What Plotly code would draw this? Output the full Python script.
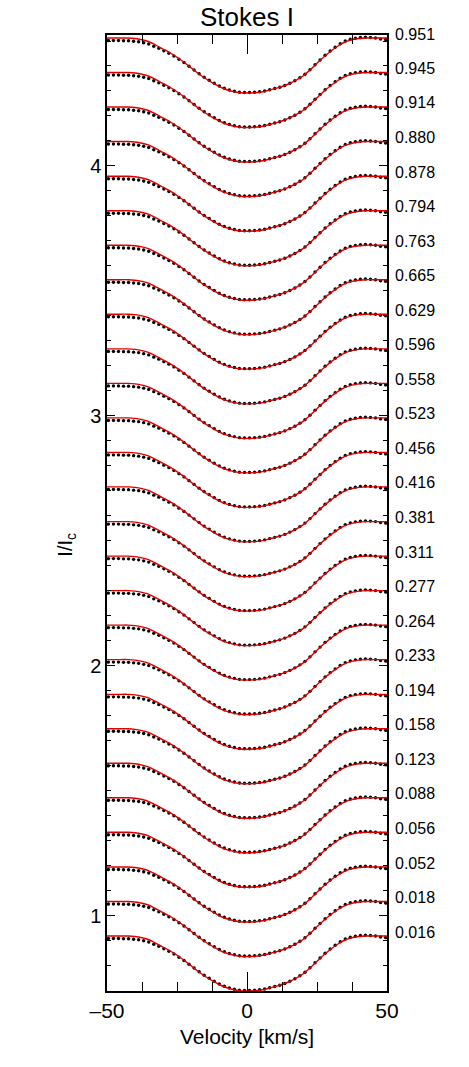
import plotly.graph_objects as go

# Phase labels, bottom to top
phases = ["0.016", "0.018", "0.052", "0.056", "0.088", "0.123", "0.158", "0.194",
          "0.233", "0.264", "0.277", "0.311", "0.381", "0.416", "0.456", "0.523",
          "0.558", "0.596", "0.629", "0.665", "0.763", "0.794", "0.878", "0.880",
          "0.914", "0.945", "0.951"]

# Continuum level of each stacked profile (I/Ic units, as plotted)
levels = [0.919, 1.057, 1.195, 1.334, 1.472, 1.610, 1.748, 1.886, 2.025,
          2.163, 2.301, 2.439, 2.577, 2.716, 2.854, 2.992, 3.130, 3.268,
          3.407, 3.545, 3.683, 3.821, 3.959, 4.098, 4.236, 4.374, 4.512]

# Model (red line) profile relative to a unit continuum
v_model = [-50.0, -47.5, -45.0, -42.5, -40.0, -37.5, -35.0, -32.5, -30.0, -27.5,
           -25.0, -22.5, -20.0, -17.5, -15.0, -12.5, -10.0, -7.5, -5.0, -2.5,
           0.0, 2.5, 5.0, 7.5, 10.0, 12.5, 15.0, 17.5, 20.0, 22.5,
           25.0, 27.5, 30.0, 32.5, 35.0, 37.5, 40.0, 42.5, 45.0, 47.5, 50.0]
i_model = [1.000, 1.000, 1.000, 1.000, 0.998, 0.993, 0.985, 0.971, 0.956, 0.941,
           0.923, 0.903, 0.881, 0.859, 0.839, 0.822, 0.806, 0.794, 0.786, 0.781,
           0.780, 0.781, 0.784, 0.790, 0.798, 0.806, 0.817, 0.831, 0.848, 0.872,
           0.899, 0.925, 0.948, 0.968, 0.984, 0.993, 0.998, 1.000, 1.000, 1.000, 1.000]

# Observed (black dots) profile relative to a unit continuum
v_obs = [-49.5, -47.7, -45.9, -44.1, -42.3, -40.5, -38.7, -36.9, -35.1, -33.3,
         -31.5, -29.7, -27.9, -26.1, -24.3, -22.5, -20.7, -18.9, -17.1, -15.3,
         -13.5, -11.7, -9.9, -8.1, -6.3, -4.5, -2.7, -0.9, 0.9, 2.7,
         4.5, 6.3, 8.1, 9.9, 11.7, 13.5, 15.3, 17.1, 18.9, 20.7,
         22.5, 24.3, 26.1, 27.9, 29.7, 31.5, 33.3, 35.1, 36.9, 38.7,
         40.5, 42.3, 44.1, 45.9, 47.7, 49.5]
i_obs = [0.990, 0.990, 0.990, 0.989, 0.989, 0.987, 0.985, 0.981, 0.976, 0.967,
         0.959, 0.949, 0.939, 0.928, 0.915, 0.902, 0.887, 0.872, 0.857, 0.843,
         0.831, 0.819, 0.808, 0.799, 0.792, 0.787, 0.783, 0.782, 0.782, 0.783,
         0.785, 0.788, 0.793, 0.798, 0.803, 0.810, 0.819, 0.829, 0.841, 0.855,
         0.873, 0.893, 0.912, 0.931, 0.948, 0.963, 0.977, 0.988, 0.995, 0.999,
         1.002, 1.003, 1.002, 1.000, 0.996, 0.994]

FONT = "Liberation Sans, Arial, Helvetica, sans-serif"

fig = go.Figure()
for lev in levels:
    shift = lev - 1.0
    fig.add_trace(go.Scatter(
        x=v_obs, y=[val + shift for val in i_obs], mode="markers",
        marker=dict(color="black", size=3.4), showlegend=False, hoverinfo="skip"))
    fig.add_trace(go.Scatter(
        x=v_model, y=[val + shift for val in i_model], mode="lines",
        line=dict(color="#e00000", width=1.4, shape="spline"),
        showlegend=False, hoverinfo="skip"))

for lab, lev in zip(phases, levels):
    fig.add_annotation(x=1.02, xref="paper", y=lev, yref="y", text=lab,
                       showarrow=False, xanchor="left", yanchor="middle",
                       yshift=4, font=dict(family=FONT, size=16, color="black"))

# Axis titles
fig.add_annotation(x=0.5, xref="paper", y=-0.048, yref="paper",
                   text="Velocity [km/s]", showarrow=False,
                   xanchor="center", yanchor="middle",
                   font=dict(family=FONT, size=21, color="black"))
fig.add_annotation(x=-0.146, xref="paper", y=0.467, yref="paper",
                   text="I/I<sub>c</sub>", showarrow=False, textangle=-90,
                   xanchor="center", yanchor="middle",
                   font=dict(family=FONT, size=20, color="black"))

fig.update_layout(
    width=469, height=1067,
    margin=dict(l=107, r=81.5, t=35, b=76, autoexpand=False),
    paper_bgcolor="white", plot_bgcolor="white",
    font=dict(family=FONT, color="black"),
    hovermode=False,
    title=dict(text="Stokes I", x=0.5, xref="paper", xanchor="center",
               y=1 - 17 / 1067, yref="container", yanchor="middle",
               automargin=False,
               font=dict(family=FONT, size=26, color="black")),
)
fig.update_xaxes(
    range=[-50, 50], tickvals=[-50, 0, 50], ticktext=["\u201350", "0", "50"],
    ticks="inside", ticklen=19, tickwidth=1, tickcolor="black",
    minor=dict(tickvals=[-37.5, -25, -12.5, 12.5, 25, 37.5], ticks="inside",
               ticklen=9, tickwidth=1, tickcolor="black"),
    showline=True, linecolor="black", linewidth=1.5, mirror="allticks",
    showgrid=False, zeroline=False, automargin=False,
    tickfont=dict(family=FONT, size=21, color="black"),
)
fig.update_yaxes(
    range=[0.699, 4.524], tickvals=[1, 2, 3, 4],
    ticks="inside", ticklen=8, tickwidth=1, tickcolor="black",
    minor=dict(dtick=0.1, tick0=0, ticks="inside", ticklen=4, tickwidth=1,
               tickcolor="black"),
    showline=True, linecolor="black", linewidth=1.5, mirror="allticks",
    showgrid=False, zeroline=False, automargin=False,
    tickfont=dict(family=FONT, size=20, color="black"),
)

fig.write_html("out.html", config={"displayModeBar": False},
               post_script="document.body.style.margin='0';")
